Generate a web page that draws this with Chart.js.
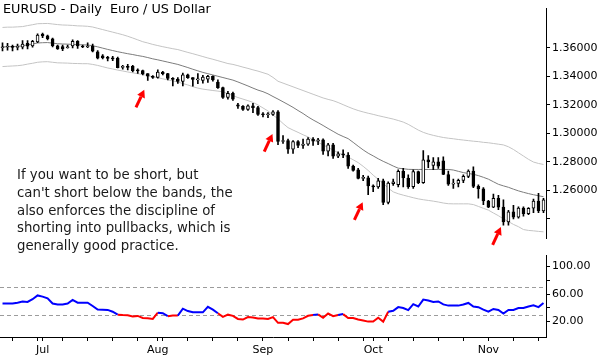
<!DOCTYPE html>
<html><head><meta charset="utf-8">
<script src="https://cdn.jsdelivr.net/npm/chart.js@4.4.0/dist/chart.umd.min.js"></script>
<style>
html,body{margin:0;padding:0;background:#fff;}
#wrap{position:relative;width:600px;height:360px;overflow:hidden;background:#fff;}
#c1{position:absolute;left:0;top:0;}
#c2{position:absolute;left:0;top:247px;}
.title{position:absolute;left:3px;top:1px;font-family:'DejaVu Sans';font-size:12.8px;line-height:16px;color:#000;white-space:nowrap;z-index:2;}
.note{position:absolute;left:17px;top:166px;font-family:'DejaVu Sans';font-size:13.3px;line-height:17.8px;color:#1a1a1a;white-space:nowrap;z-index:2;}
</style></head>
<body><div id="wrap">
<canvas id="c1" width="600" height="247"></canvas>
<canvas id="c2" width="600" height="113"></canvas>
<div class="title" id="title"></div>
<div class="note" id="note"></div>
</div>
<script>
const titleText = 'EURUSD - Daily\u00a0\u00a0Euro / US Dollar';
const noteLines = ['If you want to be short, but', "can't short below the bands, the", 'also enforces the discipline of', 'shorting into pullbacks, which is', 'generally good practice.'];

const dates = ['06-19','06-20','06-23','06-24','06-25','06-26','06-27','06-30',
'07-01','07-02','07-03','07-04','07-07','07-08','07-09','07-10','07-11','07-14','07-15','07-16','07-17','07-18','07-21','07-22','07-23','07-24','07-25','07-28','07-29','07-30','07-31',
'08-01','08-04','08-05','08-06','08-07','08-08','08-11','08-12','08-13','08-14','08-15','08-18','08-19','08-20','08-21','08-22','08-25','08-26','08-27','08-28','08-29',
'09-01','09-02','09-03','09-04','09-05','09-08','09-09','09-10','09-11','09-12','09-15','09-16','09-17','09-18','09-19','09-22','09-23','09-24','09-25','09-26','09-29','09-30',
'10-01','10-02','10-03','10-06','10-07','10-08','10-09','10-10','10-13','10-14','10-15','10-16','10-17','10-20','10-21','10-22','10-23','10-24','10-27','10-28','10-29','10-30','10-31',
'11-03','11-04','11-05','11-06','11-07','11-10','11-11','11-12','11-13','11-14','11-17','11-18'];

const open = [1.3600,1.3605,1.3608,1.3602,1.3603,1.3630,1.3613,1.3641,1.3695,1.3683,
1.3663,1.3613,1.3608,1.3600,1.3613,1.3645,1.3612,1.3605,1.3612,1.3572,
1.3543,1.3530,1.3525,1.3526,1.3462,1.3466,1.3470,1.3440,1.3440,1.3418,
1.3400,1.3392,1.3430,1.3418,1.3385,1.3380,1.3363,1.3410,1.3390,1.3375,
1.3370,1.3380,1.3400,1.3360,1.3320,1.3252,1.3280,1.3200,1.3190,1.3168,
1.3192,1.3180,1.3132,1.3130,1.3132,1.3150,1.2943,1.2950,1.2890,1.2942,
1.2915,1.2925,1.2960,1.2945,1.2955,1.2875,1.2920,1.2840,1.2856,1.2848,
1.2770,1.2745,1.2685,1.2688,1.2631,1.2625,1.2667,1.2516,1.2648,1.2640,
1.2734,1.2687,1.2627,1.2733,1.2654,1.2815,1.2775,1.2800,1.2808,1.2712,
1.2644,1.2650,1.2671,1.2698,1.2735,1.2628,1.2611,1.2526,1.2483,1.2545,
1.2483,1.2380,1.2450,1.2413,1.2477,1.2437,1.2475,1.2526,1.2457];
const high = [1.3635,1.3630,1.3618,1.3625,1.3650,1.3650,1.3652,1.3698,1.3703,1.3688,
1.3668,1.3618,1.3618,1.3618,1.3656,1.3650,1.3618,1.3635,1.3625,1.3580,
1.3552,1.3540,1.3540,1.3535,1.3476,1.3483,1.3476,1.3452,1.3444,1.3418,
1.3405,1.3445,1.3435,1.3420,1.3390,1.3390,1.3422,1.3415,1.3390,1.3418,
1.3406,1.3406,1.3403,1.3375,1.3325,1.3295,1.3290,1.3210,1.3195,1.3200,
1.3210,1.3190,1.3145,1.3145,1.3160,1.3160,1.2985,1.2960,1.2950,1.2950,
1.2960,1.2970,1.2970,1.2965,1.2962,1.2930,1.2930,1.2870,1.2885,1.2865,
1.2777,1.2755,1.2705,1.2700,1.2640,1.2685,1.2680,1.2660,1.2680,1.2745,
1.2755,1.2710,1.2745,1.2735,1.2880,1.2845,1.2830,1.2830,1.2835,1.2735,
1.2680,1.2680,1.2710,1.2745,1.2765,1.2640,1.2620,1.2530,1.2575,1.2565,
1.2535,1.2460,1.2495,1.2485,1.2485,1.2480,1.2540,1.2580,1.2545];
const low = [1.3578,1.3582,1.3577,1.3585,1.3592,1.3592,1.3603,1.3635,1.3670,1.3655,
1.3605,1.3588,1.3580,1.3596,1.3598,1.3595,1.3600,1.3600,1.3570,1.3522,
1.3522,1.3508,1.3510,1.3458,1.3450,1.3445,1.3430,1.3420,1.3410,1.3370,
1.3385,1.3386,1.3410,1.3375,1.3333,1.3350,1.3333,1.3385,1.3331,1.3348,
1.3352,1.3357,1.3365,1.3315,1.3245,1.3240,1.3230,1.3175,1.3160,1.3160,
1.3145,1.3125,1.3115,1.3110,1.3125,1.2920,1.2930,1.2860,1.2860,1.2900,
1.2895,1.2915,1.2915,1.2920,1.2853,1.2842,1.2825,1.2830,1.2830,1.2755,
1.2735,1.2680,1.2668,1.2571,1.2592,1.2615,1.2500,1.2505,1.2636,1.2625,
1.2625,1.2615,1.2615,1.2647,1.2650,1.2760,1.2745,1.2755,1.2710,1.2635,
1.2615,1.2625,1.2655,1.2690,1.2620,1.2545,1.2500,1.2480,1.2480,1.2465,
1.2357,1.2357,1.2400,1.2405,1.2420,1.2430,1.2445,1.2445,1.2445];
const close = [1.3605,1.3608,1.3602,1.3608,1.3625,1.3610,1.3645,1.3689,1.3683,1.3663,
1.3615,1.3592,1.3592,1.3605,1.3645,1.3613,1.3605,1.3612,1.3575,1.3527,
1.3530,1.3525,1.3522,1.3461,1.3466,1.3462,1.3440,1.3438,1.3418,1.3400,
1.3392,1.3430,1.3418,1.3385,1.3378,1.3363,1.3410,1.3390,1.3378,1.3382,
1.3395,1.3400,1.3375,1.3320,1.3252,1.3280,1.3240,1.3190,1.3168,1.3192,
1.3180,1.3132,1.3130,1.3132,1.3150,1.2943,1.2950,1.2890,1.2942,1.2915,
1.2925,1.2960,1.2945,1.2955,1.2875,1.2920,1.2840,1.2856,1.2848,1.2770,
1.2740,1.2685,1.2688,1.2631,1.2625,1.2667,1.2516,1.2651,1.2660,1.2734,
1.2687,1.2627,1.2733,1.2654,1.2815,1.2800,1.2800,1.2770,1.2712,1.2644,
1.2650,1.2671,1.2698,1.2735,1.2628,1.2611,1.2526,1.2483,1.2545,1.2483,
1.2380,1.2450,1.2413,1.2477,1.2437,1.2475,1.2526,1.2457,1.2534];

const bandUpper = [1.3742,1.3744,1.3744,1.3746,1.3748,1.3755,1.3761,1.3768,1.3769,1.3770,
1.3766,1.3762,1.3759,1.3758,1.3756,1.3753,1.3752,1.3750,1.3745,1.3736,
1.3727,1.3718,1.3709,1.3700,1.3691,1.3680,1.3668,1.3655,1.3642,1.3633,
1.3623,1.3615,1.3607,1.3600,1.3593,1.3587,1.3577,1.3567,1.3558,1.3548,
1.3538,1.3528,1.3519,1.3509,1.3499,1.3489,1.3483,1.3474,1.3464,1.3455,
1.3445,1.3436,1.3425,1.3414,1.3392,1.3365,1.3352,1.3339,1.3326,1.3313,
1.3300,1.3287,1.3274,1.3261,1.3248,1.3238,1.3229,1.3216,1.3201,1.3186,
1.3172,1.3160,1.3150,1.3141,1.3133,1.3124,1.3116,1.3108,1.3100,1.3090,
1.3079,1.3063,1.3043,1.3023,1.3007,1.2995,1.2986,1.2978,1.2971,1.2966,
1.2962,1.2957,1.2953,1.2949,1.2945,1.2942,1.2937,1.2934,1.2929,1.2924,
1.2919,1.2906,1.2887,1.2864,1.2841,1.2818,1.2799,1.2789,1.2782];
const bandMid = [1.3605,1.3607,1.3608,1.3610,1.3613,1.3620,1.3626,1.3633,1.3635,1.3636,
1.3632,1.3628,1.3626,1.3625,1.3623,1.3621,1.3620,1.3619,1.3614,1.3606,
1.3597,1.3588,1.3580,1.3572,1.3565,1.3558,1.3552,1.3545,1.3539,1.3531,
1.3522,1.3515,1.3507,1.3499,1.3491,1.3483,1.3472,1.3461,1.3449,1.3438,
1.3427,1.3418,1.3409,1.3400,1.3391,1.3382,1.3373,1.3360,1.3346,1.3332,
1.3317,1.3303,1.3292,1.3277,1.3258,1.3240,1.3221,1.3202,1.3182,1.3160,
1.3139,1.3115,1.3094,1.3075,1.3055,1.3034,1.3014,1.2994,1.2978,1.2963,
1.2937,1.2910,1.2884,1.2861,1.2842,1.2822,1.2804,1.2788,1.2771,1.2756,
1.2752,1.2748,1.2747,1.2747,1.2747,1.2747,1.2747,1.2747,1.2747,1.2747,
1.2743,1.2734,1.2725,1.2719,1.2713,1.2704,1.2692,1.2679,1.2661,1.2643,
1.2632,1.2622,1.2609,1.2597,1.2587,1.2578,1.2570,1.2563,1.2556];
const bandLower = [1.3468,1.3470,1.3472,1.3474,1.3478,1.3485,1.3491,1.3498,1.3501,1.3502,
1.3498,1.3494,1.3493,1.3492,1.3490,1.3489,1.3488,1.3488,1.3483,1.3476,
1.3467,1.3458,1.3451,1.3443,1.3437,1.3430,1.3424,1.3418,1.3412,1.3405,
1.3396,1.3390,1.3382,1.3375,1.3367,1.3360,1.3349,1.3339,1.3327,1.3317,
1.3310,1.3305,1.3300,1.3296,1.3291,1.3278,1.3264,1.3251,1.3240,1.3229,
1.3217,1.3199,1.3178,1.3157,1.3128,1.3102,1.3069,1.3040,1.3023,1.3007,
1.2990,1.2975,1.2955,1.2937,1.2919,1.2901,1.2883,1.2864,1.2848,1.2834,
1.2815,1.2795,1.2769,1.2740,1.2707,1.2678,1.2649,1.2616,1.2590,1.2577,
1.2567,1.2558,1.2549,1.2541,1.2535,1.2530,1.2525,1.2519,1.2512,1.2507,
1.2506,1.2506,1.2506,1.2506,1.2501,1.2488,1.2475,1.2462,1.2442,1.2423,
1.2401,1.2382,1.2362,1.2346,1.2326,1.2320,1.2317,1.2313,1.2310];

const rsi = [46.2,46.2,46.2,47.5,49,48.5,52.5,58,56.3,53.7,
46.2,45,45,46.2,51.5,47.5,47.5,47.5,42.7,37.4,
37.2,37,34.4,30,29.5,29.2,27.5,28.3,25.2,25,
23.9,33,32.2,27.9,28.8,28.8,38.8,35.3,33.5,33.5,
33.5,41.4,37.4,32.2,27,30.1,28.3,23.9,23,26.6,
26,24.5,24.5,23.9,26.6,18.3,18.3,16.5,22.6,22.6,
24.7,28.5,29.5,30.5,25.6,31.8,27.9,29.6,30.9,25.2,
25.2,23,21.7,20,20,25.6,20,34.4,35.7,41,
39.7,36.7,45.3,41.9,51.9,50.6,48.5,49.2,45,43.2,
43.2,43.2,44.9,47.1,41.9,41,37.4,34.4,38.4,37,
31.8,37,37,39.7,39.7,42,43.6,41,47.1];

const priceTicks = [1.24,1.26,1.28,1.30,1.32,1.34,1.36];
const priceTickLabels = ['','1.26000','1.28000','1.30000','1.32000','1.34000','1.36000'];
const rsiTicks = [20,40,60,80,100];
const rsiTickLabels = ['20.00','','60.00','','100.00'];
const rsiLevels = [70,30];
const monthNames = {'07':'Jul','08':'Aug','09':'Sep','10':'Oct','11':'Nov'};
// arrow tips: [category index, price]
const arrowTips = [[28.3,1.3305],[53.9,1.2996],[71.9,1.2517],[99.5,1.2343]];

document.getElementById('title').textContent = titleText;
document.getElementById('note').innerHTML = noteLines.map(s=>s.replace(/&/g,'&amp;').replace(/</g,'&lt;')).join('<br>');

const FONT = 'DejaVu Sans';
const bodies = open.map((o,i)=>[o, close[i]]);
const wicks = low.map((l,i)=>[l, high[i]]);
const bodyFill = open.map((o,i)=> close[i] >= o ? '#ffffff' : '#000000');

const tickIdx = [], tickLab = {};
dates.forEach((d,i)=>{
  const m = d.slice(0,2);
  const monthStart = i>0 && dates[i-1].slice(0,2) !== m;
  const dow = new Date('2014-'+d+'T12:00:00').getDay();
  if (monthStart) { tickIdx.push(i); tickLab[i] = monthNames[m] || ''; }
  else if (dow === 1) { tickIdx.push(i); }
});

const arrowPlugin = {
  id:'arrows',
  afterDatasetsDraw(chart){
    const {ctx, scales:{x,y}} = chart;
    ctx.save();
    ctx.fillStyle = '#ff0000'; ctx.strokeStyle = '#ff0000';
    const ang = Math.atan2(-17.7, 8.3);
    const ux = Math.cos(ang), uy = Math.sin(ang);
    arrowTips.forEach(([i,p])=>{
      const tx = x.getPixelForValue(i), ty = y.getPixelForValue(p);
      const len = 19.5, hl = 7.5, hw = 4.2;
      const bx = tx - ux*len, by = ty - uy*len;
      const hx = tx - ux*hl, hy = ty - uy*hl;
      ctx.lineWidth = 3; ctx.lineCap = 'butt';
      ctx.beginPath(); ctx.moveTo(bx,by); ctx.lineTo(hx,hy); ctx.stroke();
      ctx.beginPath(); ctx.moveTo(tx,ty);
      ctx.lineTo(hx - uy*hw, hy + ux*hw);
      ctx.lineTo(hx + uy*hw, hy - ux*hw);
      ctx.closePath(); ctx.fill();
    });
    ctx.restore();
  }
};

const levelsPlugin = {
  id:'levels',
  beforeDatasetsDraw(chart){
    const {ctx, chartArea, scales:{x,y}} = chart;
    ctx.save();
    ctx.strokeStyle = '#9c9c9c'; ctx.lineWidth = 1; ctx.setLineDash([4,3]);
    const x0 = chartArea.left, x1 = x.getPixelForValue(dates.length-1);
    rsiLevels.forEach(v=>{
      const yy = Math.round(y.getPixelForValue(v)) + 0.5;
      ctx.beginPath(); ctx.moveTo(x0,yy); ctx.lineTo(x1,yy); ctx.stroke();
    });
    ctx.restore();
  }
};

const lineDs = (data, color) => ({type:'line', data, borderColor:color, borderWidth:1, pointRadius:0, tension:0, order:3});

new Chart(document.getElementById('c1'), {
  type:'bar',
  data:{ labels: dates, datasets:[
    lineDs(bandUpper,'#c4c4c4'),
    lineDs(bandLower,'#c4c4c4'),
    lineDs(bandMid,'#7c7c7c'),
    {type:'bar', data:wicks, backgroundColor:'#000', barThickness:1, grouped:false, order:1},
    {type:'bar', data:bodies, backgroundColor:bodyFill, borderColor:'#000', borderWidth:1, borderSkipped:false, barThickness:3, grouped:false, minBarLength:1, order:0}
  ]},
  options:{
    responsive:false, animation:false, events:[],
    layout:{padding:0},
    plugins:{legend:{display:false}, tooltip:{enabled:false}, title:{display:false}},
    scales:{
      x:{display:false, offset:true},
      y:{position:'right', min:1.2264, max:1.3874,
        afterBuildTicks: s => { s.ticks = priceTicks.map(v=>({value:v})); },
        afterFit: s => { s.width = 54; },
        ticks:{ callback: v => { const k = priceTicks.findIndex(t=>Math.abs(t-v)<1e-7); return k<0 ? '' : priceTickLabels[k]; },
          font:{family:FONT, size:11}, color:'#000', padding:2 },
        grid:{drawOnChartArea:false, drawTicks:true, tickLength:4, color:'#000'},
        border:{display:true, color:'#000', width:1}
      }
    }
  },
  plugins:[arrowPlugin]
});

new Chart(document.getElementById('c2'), {
  type:'line',
  data:{ labels: dates, datasets:[{
    data:rsi, borderWidth:2, pointRadius:0, tension:0, borderColor:'#0000ff',
    segment:{ borderColor: ctx => ((ctx.p0.parsed.y + ctx.p1.parsed.y)/2 < 30 ? '#ff0000' : '#0000ff') }
  }]},
  options:{
    responsive:false, animation:false, events:[],
    layout:{padding:0},
    plugins:{legend:{display:false}, tooltip:{enabled:false}},
    scales:{
      x:{offset:true,
        afterBuildTicks: s => { s.ticks = tickIdx.map(i=>({value:i})); },
        afterFit: s => { s.height = 23; },
        ticks:{autoSkip:false, maxRotation:0, minRotation:0, callback: v => tickLab[v] || '', font:{family:FONT, size:11}, color:'#000', padding:3},
        grid:{drawOnChartArea:false, drawTicks:true, tickLength:4, color:'#000', offset:false},
        border:{display:true, color:'#000', width:1}
      },
      y:{position:'right', min:-2.3, max:115.74,
        afterBuildTicks: s => { s.ticks = rsiTicks.map(v=>({value:v})); },
        afterFit: s => { s.width = 54; },
        ticks:{ callback: v => { const k = rsiTicks.indexOf(v); return k<0 ? '' : rsiTickLabels[k]; },
          font:{family:FONT, size:11}, color:'#000', padding:2 },
        grid:{drawOnChartArea:false, drawTicks:true, tickLength:4, color:'#000'},
        border:{display:true, color:'#000', width:1}
      }
    }
  },
  plugins:[levelsPlugin]
});
</script>
</body></html>
